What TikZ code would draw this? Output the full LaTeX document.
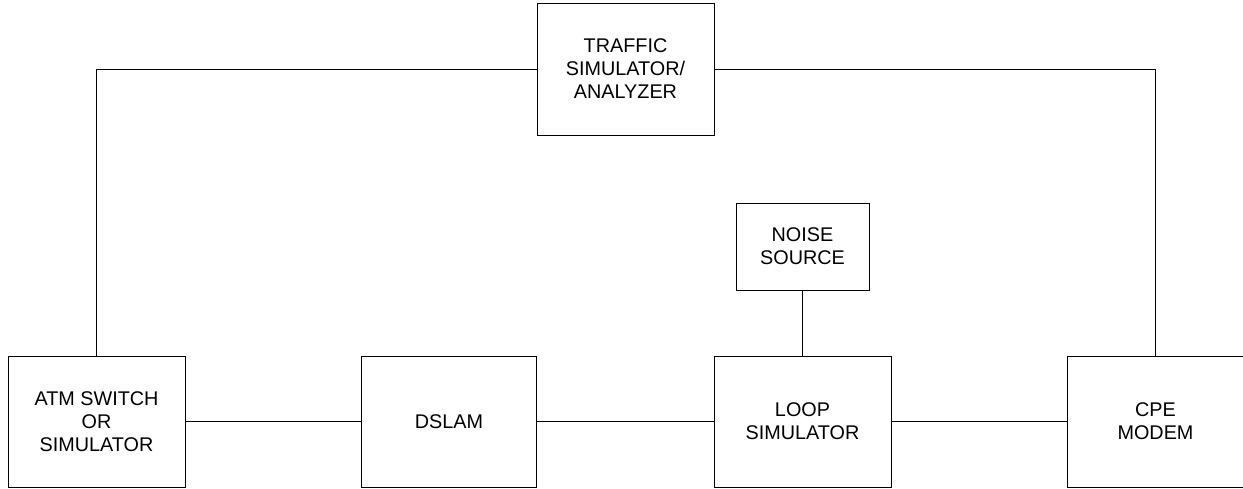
\documentclass[tikz,border=0pt]{standalone}
\usepackage{fontspec}
\setmainfont{Liberation Sans}
\begin{document}
\begin{tikzpicture}[x=1pt,y=-1pt,
  box/.style={draw, line width=1pt, rectangle, inner sep=0pt, align=center,
    font=\fontsize{19.8}{23}\selectfont},
  conn/.style={line width=1pt}]
\useasboundingbox (0,0) rectangle (1243,488);
\node[box, minimum width=177pt, minimum height=131pt] (atm) at (96.5,421.5) {ATM SWITCH\\OR\\SIMULATOR};
\node[box, minimum width=175pt, minimum height=131pt] (dslam) at (449,421.5) {DSLAM};
\node[box, minimum width=177pt, minimum height=131pt] (loop) at (802.5,421.5) {LOOP\\SIMULATOR};
\node[box, minimum width=177pt, minimum height=131pt] (cpe) at (1155.5,421.5) {CPE\\MODEM};
\node[box, minimum width=177pt, minimum height=132pt] (traffic) at (625.5,69) {TRAFFIC\\SIMULATOR/\\ANALYZER};
\node[box, minimum width=133pt, minimum height=87pt] (noise) at (802.5,246.5) {NOISE\\SOURCE};
\draw[conn] (atm.north) |- (traffic.west);
\draw[conn] (traffic.east) -| (cpe.north);
\draw[conn] (atm.east) -- (dslam.west);
\draw[conn] (dslam.east) -- (loop.west);
\draw[conn] (loop.east) -- (cpe.west);
\draw[conn] (noise.south) -- (loop.north);
\end{tikzpicture}
\end{document}
